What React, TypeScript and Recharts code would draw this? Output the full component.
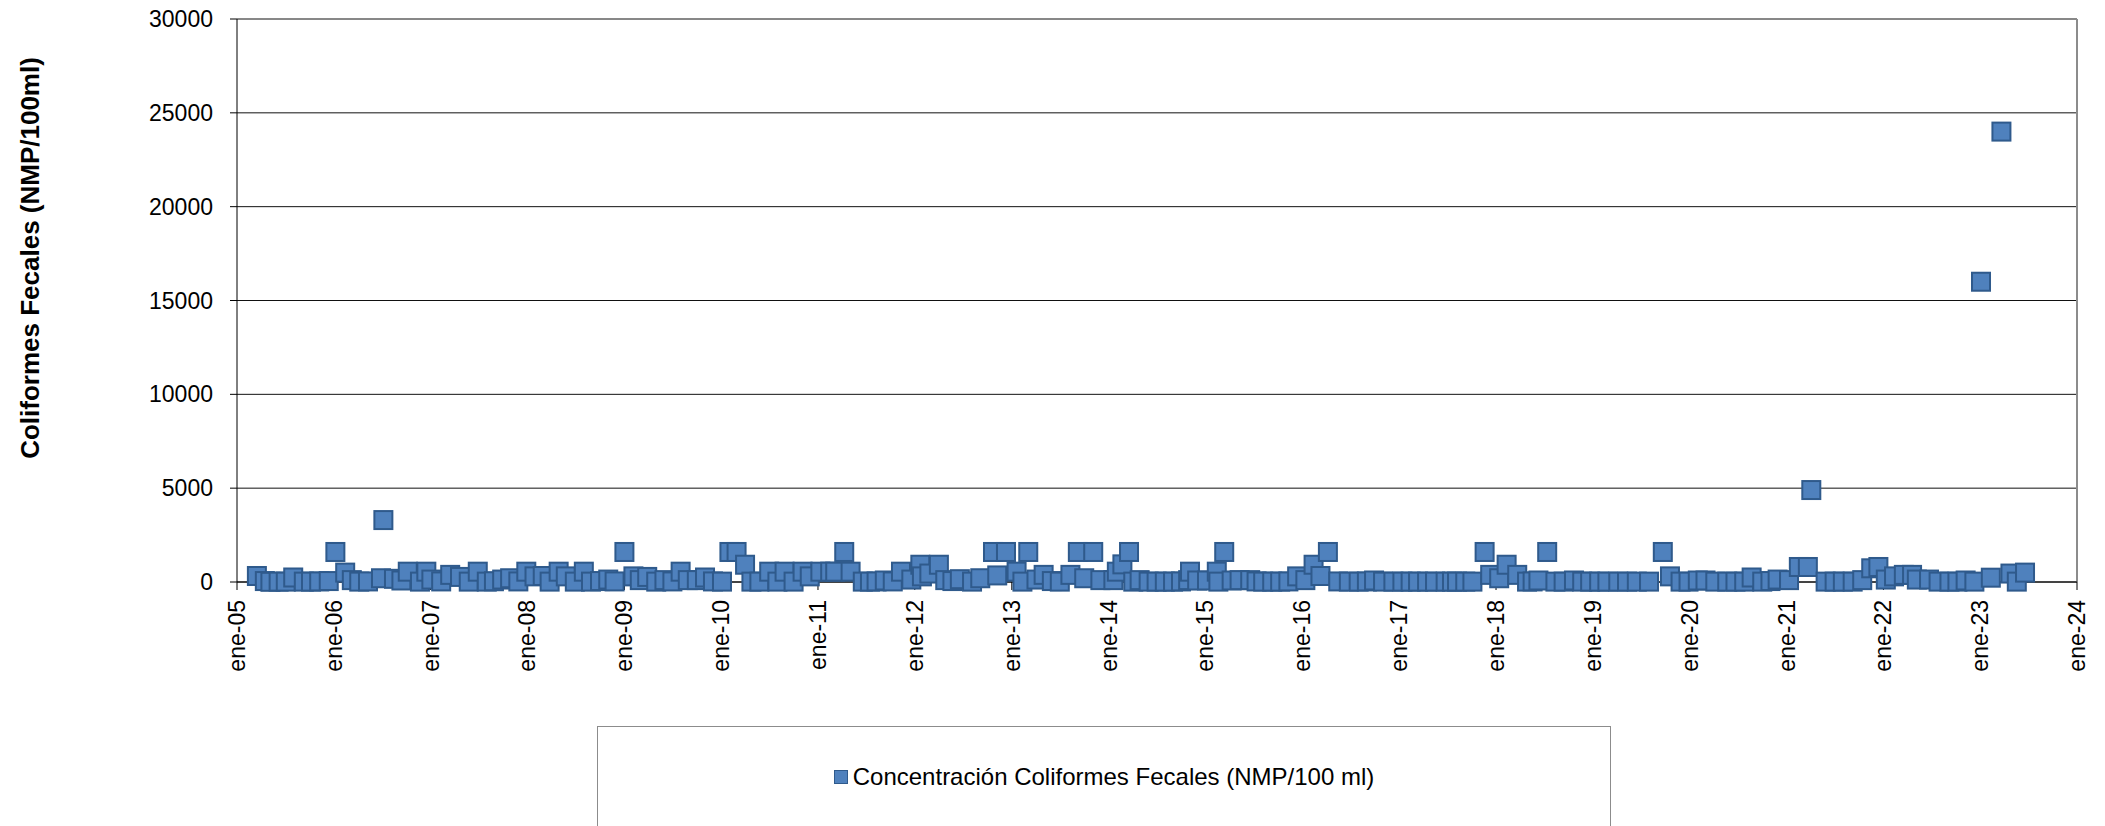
import { CartesianGrid, Label, ReferenceLine, Scatter, ScatterChart, XAxis, YAxis } from "recharts";

const W = 2105;
const H = 826;
const FONT = '"Liberation Sans", Arial, sans-serif';

// sampling dates, one line per year
const sampleDates = [
  "2005-03-17", "2005-04-16", "2005-05-07", "2005-06-07", "2005-07-04", "2005-08-01", "2005-09-10", "2005-10-07", "2005-11-07", "2005-12-13",
  "2006-01-07", "2006-02-13", "2006-03-10", "2006-04-07", "2006-05-10", "2006-06-28", "2006-07-07", "2006-08-16", "2006-09-13", "2006-10-07", "2006-11-22", "2006-12-16",
  "2007-01-04", "2007-02-10", "2007-03-16", "2007-04-22", "2007-05-25", "2007-06-28", "2007-08-01", "2007-08-28", "2007-09-28", "2007-10-28", "2007-11-28", "2007-12-28",
  "2008-01-28", "2008-02-28", "2008-03-25", "2008-04-28", "2008-05-25", "2008-06-28", "2008-08-01", "2008-08-28", "2008-10-01", "2008-11-01", "2008-11-25",
  "2009-01-01", "2009-02-04", "2009-02-28", "2009-03-28", "2009-05-01", "2009-06-01", "2009-07-01", "2009-08-01", "2009-08-28", "2009-10-01", "2009-11-01", "2009-12-01",
  "2010-01-04", "2010-02-01", "2010-02-28", "2010-04-01", "2010-04-25", "2010-05-25", "2010-07-01", "2010-08-01", "2010-08-28", "2010-10-01", "2010-11-04", "2010-12-01",
  "2011-01-10", "2011-02-16", "2011-03-07", "2011-04-10", "2011-05-04", "2011-06-19", "2011-07-16", "2011-08-10", "2011-09-10", "2011-10-10", "2011-11-10", "2011-12-19",
  "2012-01-22", "2012-01-28", "2012-02-25", "2012-04-01", "2012-04-25", "2012-05-22", "2012-06-19", "2012-08-04", "2012-09-04", "2012-10-22", "2012-11-07", "2012-12-10",
  "2013-01-19", "2013-02-10", "2013-03-04", "2013-04-04", "2013-05-01", "2013-06-01", "2013-07-01", "2013-08-10", "2013-09-07", "2013-10-01", "2013-11-04", "2013-12-01",
  "2014-01-19", "2014-02-01", "2014-02-22", "2014-03-19", "2014-04-04", "2014-04-28", "2014-06-01", "2014-07-01", "2014-08-01", "2014-09-01", "2014-10-01", "2014-10-28", "2014-11-04", "2014-12-01",
  "2015-01-07", "2015-02-13", "2015-02-19", "2015-03-13", "2015-04-10", "2015-05-10", "2015-06-19", "2015-07-13", "2015-08-07", "2015-09-10", "2015-10-10", "2015-11-10", "2015-12-13",
  "2016-01-13", "2016-02-13", "2016-03-10", "2016-04-07", "2016-05-16", "2016-06-25", "2016-08-01", "2016-09-01", "2016-09-28", "2016-11-01", "2016-12-10",
  "2017-01-13", "2017-02-13", "2017-03-13", "2017-04-16", "2017-05-16", "2017-06-25", "2017-07-19", "2017-08-07", "2017-09-07", "2017-10-04", "2017-11-19", "2017-12-10",
  "2018-01-13", "2018-02-10", "2018-03-22", "2018-04-28", "2018-05-19", "2018-06-10", "2018-07-13", "2018-08-13", "2018-09-13", "2018-10-22", "2018-11-22", "2018-12-22",
  "2019-01-25", "2019-02-25", "2019-04-07", "2019-05-10", "2019-06-16", "2019-08-01", "2019-09-22", "2019-10-19", "2019-11-28", "2019-12-28",
  "2020-02-01", "2020-03-01", "2020-04-07", "2020-05-22", "2020-06-22", "2020-07-25", "2020-08-22", "2020-10-01", "2020-11-01", "2020-11-28",
  "2021-01-10", "2021-02-16", "2021-03-22", "2021-04-04", "2021-05-28", "2021-07-01", "2021-08-01", "2021-09-07", "2021-10-13", "2021-11-16", "2021-12-13",
  "2022-01-10", "2022-02-10", "2022-03-19", "2022-04-19", "2022-05-07", "2022-06-22", "2022-07-28", "2022-09-07", "2022-10-07", "2022-11-07", "2022-12-10",
  "2023-01-04", "2023-02-10", "2023-03-22", "2023-04-25", "2023-05-19", "2023-06-19",
];

// NMP/100 ml, same order as sampleDates
const coliformValues = [
  320, 50, 10, 20, 20, 240, 20, 20, 30, 50,
  1600, 500, 100, 20, 30, 200, 3300, 170, 80, 550, 20, 550,
  130, 30, 380, 270, 20, 550, 20, 40, 130, 200, 30, 550,
  300, 320, 20, 550, 300, 20, 550, 20, 50, 130, 30,
  1600, 300, 100, 270, 20, 100, 30, 550, 100, 100, 240, 30,
  20, 1600, 1600, 920, 20, 20, 550, 20, 550, 20, 550, 300,
  550, 550, 550, 1600, 550, 20, 20, 30, 80, 30, 550, 130,
  920, 300, 450, 920, 100, 50, 150, 20, 200, 1600, 350, 1600,
  550, 20, 1600, 130, 380, 50, 20, 380, 1600, 200, 1600, 100,
  100, 550, 940, 1600, 20, 100, 20, 20, 20, 20, 30, 100, 550, 80,
  80, 550, 20, 1600, 80, 100, 100, 30, 20, 20, 20, 30, 300,
  100, 920, 320, 1600, 30, 20, 20, 30, 80, 20, 20,
  20, 20, 20, 20, 20, 20, 20, 20, 20, 20, 1600, 380,
  200, 920, 380, 20, 30, 80, 1600, 20, 20, 80, 20, 20,
  20, 20, 20, 20, 20, 20, 1600, 300, 20, 20,
  80, 80, 20, 20, 20, 20, 240, 20, 50, 130,
  100, 800, 800, 4900, 20, 20, 20, 20, 100, 730, 800,
  130, 300, 380, 380, 130, 130, 20, 20, 20, 80, 20,
  16000, 230, 24000, 450, 20, 500,
];

const xTickYears = [2005, 2006, 2007, 2008, 2009, 2010, 2011, 2012, 2013, 2014, 2015, 2016, 2017, 2018, 2019, 2020, 2021, 2022, 2023, 2024];
const xTickLabels = ["ene-05", "ene-06", "ene-07", "ene-08", "ene-09", "ene-10", "ene-11", "ene-12", "ene-13", "ene-14", "ene-15", "ene-16", "ene-17", "ene-18", "ene-19", "ene-20", "ene-21", "ene-22", "ene-23", "ene-24"];
const yTicks = [0, 5000, 10000, 15000, 20000, 25000, 30000];

const seriesName = "Concentración Coliformes Fecales (NMP/100 ml)";
const yTitle = "Coliformes Fecales (NMP/100ml)";

const xTicks = xTickYears.map((y) => Date.UTC(y, 0, 1));
const xDomain = [xTicks[0], xTicks[xTicks.length - 1]];
const data = sampleDates.map((d, i) => ({ t: Date.parse(d), v: coliformValues[i] }));

const FILL = "#4F81BD";
const EDGE = "#2F5A8C";

function SquareMarker(props: any) {
  const { cx, cy } = props;
  if (cx == null || cy == null) return null;
  return <rect x={cx - 9} y={cy - 9} width={18} height={18} fill={FILL} stroke={EDGE} strokeWidth={2} />;
}

function DateTick(props: any) {
  const { x, y, payload } = props;
  const idx = xTicks.indexOf(payload.value);
  return (
    <text x={x} y={y} transform={`rotate(-90, ${x}, ${y})`} textAnchor="end" dominantBaseline="central" fontSize={23} fill="#000" fontFamily={FONT}>
      {xTickLabels[idx]}
    </text>
  );
}

export default function App() {
  return (
    <div style={{ position: "absolute", left: 0, top: 0, width: W, height: H, overflow: "hidden", background: "#fff", fontFamily: FONT }}>
      <ScatterChart width={W} height={H} margin={{ top: 19, right: 28, bottom: 0, left: 0 }}>
        <CartesianGrid stroke="#111" vertical={false} />
        <XAxis
          type="number"
          dataKey="t"
          domain={xDomain}
          ticks={xTicks}
          interval={0}
          height={244}
          stroke="#000"
          tickSize={8}
          tickMargin={10}
          tick={<DateTick />}
        />
        <YAxis
          type="number"
          dataKey="v"
          domain={[0, 30000]}
          ticks={yTicks}
          interval={0}
          width={237}
          stroke="#000"
          tickSize={7}
          tickMargin={17}
          tick={{ fill: "#000", fontSize: 23, fontFamily: FONT }}
        >
          <Label
            content={() => (
              <text x={30} y={258} transform="rotate(-90, 30, 258)" textAnchor="middle" dominantBaseline="central" fontSize={26} fontWeight="bold" fill="#000" fontFamily={FONT}>
                {yTitle}
              </text>
            )}
          />
        </YAxis>
        <ReferenceLine x={xDomain[1]} stroke="#8c8c8c" strokeWidth={2} />
        <Scatter name={seriesName} data={data} dataKey="v" shape={<SquareMarker />} isAnimationActive={false} />
      </ScatterChart>
      <div
        style={{
          position: "absolute",
          left: 597,
          top: 726,
          width: 1014,
          height: 130,
          border: "1px solid #8c8c8c",
          boxSizing: "border-box",
          background: "#fff",
        }}
      >
        <div style={{ position: "absolute", left: 0, right: 0, top: 36, height: 28, display: "flex", justifyContent: "center", alignItems: "center", gap: 5 }}>
          <span style={{ width: 12, height: 12, background: FILL, border: `1.5px solid ${EDGE}`, display: "inline-block" }} />
          <span style={{ fontSize: 24, color: "#000", whiteSpace: "nowrap" }}>{seriesName}</span>
        </div>
      </div>
    </div>
  );
}
